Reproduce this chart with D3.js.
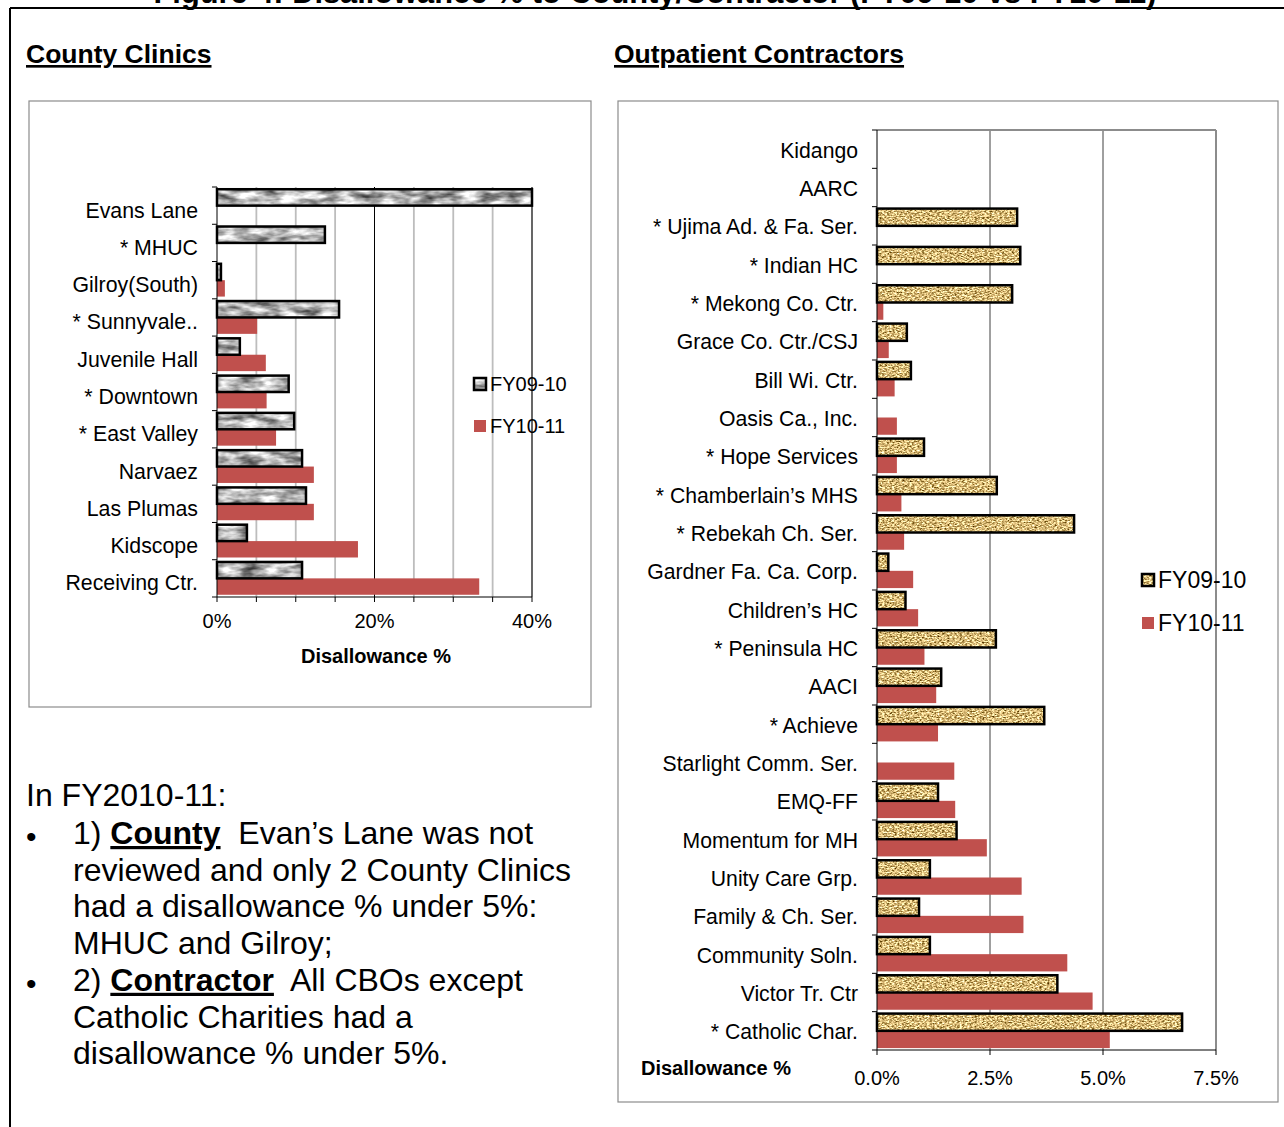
<!DOCTYPE html>
<html>
<head>
<meta charset="utf-8">
<script src="https://cdn.jsdelivr.net/npm/d3@7"></script>
<style>
  body { margin: 0; background: #fff; }
  svg { font-family: "Liberation Sans", Arial, sans-serif; }
</style>
</head>
<body>
<div id="fig"></div>
<script>
var seriesNames = ["FY09-10", "FY10-11"];

/* County clinics (%) */
var countyCats = ["Evans Lane", "* MHUC", "Gilroy(South)", "* Sunnyvale..", "Juvenile Hall",
  "* Downtown", "* East Valley", "Narvaez", "Las Plumas", "Kidscope", "Receiving Ctr."];
var countyFY0910 = [40, 13.7, 0.5, 15.5, 2.9, 9.1, 9.8, 10.8, 11.3, 3.8, 10.8];
var countyFY1011 = [0, 0, 1.0, 5.1, 6.2, 6.3, 7.5, 12.3, 12.3, 17.9, 33.3];
var countyTicks = [0, 20, 40];

/* Outpatient contractors (%) */
var contractCats = ["Kidango", "AARC", "* Ujima Ad. & Fa. Ser.", "* Indian HC", "* Mekong Co. Ctr.",
  "Grace Co. Ctr./CSJ", "Bill Wi. Ctr.", "Oasis Ca., Inc.", "* Hope Services", "* Chamberlain\u2019s MHS",
  "* Rebekah Ch. Ser.", "Gardner Fa. Ca. Corp.", "Children\u2019s HC", "* Peninsula HC", "AACI",
  "* Achieve", "Starlight Comm. Ser.", "EMQ-FF", "Momentum for MH", "Unity Care Grp.",
  "Family & Ch. Ser.", "Community Soln.", "Victor Tr. Ctr", "* Catholic Char."];
var contractFY0910 = [0, 0, 3.10, 3.17, 2.99, 0.66, 0.75, 0, 1.04, 2.65, 4.36, 0.25, 0.63, 2.63,
  1.42, 3.70, 0, 1.35, 1.76, 1.17, 0.93, 1.17, 3.99, 6.75];
var contractFY1011 = [0, 0, 0, 0, 0.14, 0.26, 0.39, 0.44, 0.44, 0.54, 0.60, 0.80, 0.91, 1.05,
  1.31, 1.35, 1.71, 1.73, 2.43, 3.20, 3.24, 4.21, 4.77, 5.15];
var contractTicks = [0, 2.5, 5, 7.5];

var RED = "#C0504D";

var svg = d3.select("#fig").append("svg")
  .attr("width", 1284)
  .attr("height", 1127);

var defs = svg.append("defs");

function textureFilter(id, freq, seed, matrix) {
  var f = defs.append("filter").attr("id", id)
    .attr("x", 0).attr("y", 0).attr("width", 1).attr("height", 1)
    .attr("color-interpolation-filters", "sRGB");
  f.append("feTurbulence").attr("type", "fractalNoise")
    .attr("baseFrequency", freq).attr("numOctaves", 3).attr("seed", seed);
  f.append("feColorMatrix").attr("type", "matrix").attr("values", matrix);
  f.append("feComposite").attr("in2", "SourceGraphic").attr("operator", "in");
}
textureFilter("marble", "0.05 0.14", 4,
  "1.3 0 0 0 0.05  1.3 0 0 0 0.05  1.3 0 0 0 0.05  0 0 0 0 1");
textureFilter("tan", "0.4 0.8", 9,
  "1.5 0 0 0 0.1  1.5 0 0 0 -0.02  1.5 0 0 0 -0.28  0 0 0 0 1");

/* page frame + cut-off caption */
svg.append("text")
  .attr("x", 655).attr("y", 3)
  .attr("text-anchor", "middle")
  .style("font-size", "30.8px").style("font-weight", "bold")
  .text("Figure 4: Disallowance % to County/Contractor (FY09-10 vs FY10-11)");
svg.append("line").attr("x1", 10).attr("x2", 1284).attr("y1", 8).attr("y2", 8)
  .attr("stroke", "#000").attr("stroke-width", 2);
svg.append("line").attr("x1", 10).attr("x2", 10).attr("y1", 8).attr("y2", 1127)
  .attr("stroke", "#000").attr("stroke-width", 2);

/* section headings */
[["County Clinics", 26], ["Outpatient Contractors", 614]].forEach(function (h) {
  svg.append("text")
    .attr("x", h[1]).attr("y", 63)
    .style("font-size", "26.5px").style("font-weight", "bold")
    .style("text-decoration", "underline")
    .text(h[0]);
});

function drawChart(cfg) {
  var g = svg.append("g");

  g.append("rect")
    .attr("x", cfg.box[0]).attr("y", cfg.box[1])
    .attr("width", cfg.box[2]).attr("height", cfg.box[3])
    .attr("fill", "#fff").attr("stroke", "#8c8c8c").attr("stroke-width", 1.2);

  var x = d3.scaleLinear().domain([0, cfg.max]).range([cfg.x0, cfg.x1]);
  var y = d3.scaleBand().domain(cfg.cats).range([cfg.y0, cfg.y1])
    .paddingInner(cfg.pad).paddingOuter(cfg.pad / 2);
  var ys = d3.scaleBand().domain(seriesNames).range([0, y.bandwidth()]);

  /* gridlines */
  g.selectAll("line.grid")
    .data(cfg.grid)
    .enter()
    .append("line")
    .attr("class", "grid")
    .attr("x1", function (d) { return x(d[0]); })
    .attr("x2", function (d) { return x(d[0]); })
    .attr("y1", cfg.y0).attr("y2", cfg.y1)
    .attr("stroke", function (d) { return d[1]; })
    .attr("stroke-width", function (d) { return d[2]; });
  if (cfg.topBorder) {
    g.append("line").attr("x1", cfg.x0).attr("x2", cfg.x1)
      .attr("y1", cfg.y0).attr("y2", cfg.y0)
      .attr("stroke", "#8c8c8c").attr("stroke-width", 2);
  }

  var rows = cfg.cats.map(function (c, i) {
    return { cat: c, a: cfg.a[i], b: cfg.b[i] };
  });

  /* FY10-11 */
  g.selectAll("rect.b")
    .data(rows.filter(function (d) { return d.b > 0; }))
    .enter()
    .append("rect")
    .attr("class", "b")
    .attr("x", x(0))
    .attr("y", function (d) { return y(d.cat) + ys("FY10-11"); })
    .attr("width", function (d) { return x(d.b) - x(0); })
    .attr("height", ys.bandwidth())
    .attr("fill", RED);

  /* FY09-10 */
  var aRows = rows.filter(function (d) { return d.a > 0; });
  g.selectAll("rect.a")
    .data(aRows)
    .enter()
    .append("rect")
    .attr("class", "a")
    .attr("x", x(0))
    .attr("y", function (d) { return y(d.cat) + ys("FY09-10"); })
    .attr("width", function (d) { return x(d.a) - x(0); })
    .attr("height", ys.bandwidth())
    .attr("fill", "#999")
    .attr("filter", "url(#" + cfg.texture + ")");
  g.selectAll("rect.aline")
    .data(aRows)
    .enter()
    .append("rect")
    .attr("class", "aline")
    .attr("x", x(0))
    .attr("y", function (d) { return y(d.cat) + ys("FY09-10"); })
    .attr("width", function (d) { return x(d.a) - x(0); })
    .attr("height", ys.bandwidth())
    .attr("fill", "none")
    .attr("stroke", "#000")
    .attr("stroke-width", 2.5);

  /* category axis */
  g.append("line").attr("x1", cfg.x0).attr("x2", cfg.x0)
    .attr("y1", cfg.y0).attr("y2", cfg.y1).attr("stroke", "#000");
  g.selectAll("line.ytick")
    .data(d3.range(cfg.cats.length + 1))
    .enter()
    .append("line")
    .attr("class", "ytick")
    .attr("x1", cfg.x0 - 5).attr("x2", cfg.x0)
    .attr("y1", function (i) { return cfg.y0 + i * y.step(); })
    .attr("y2", function (i) { return cfg.y0 + i * y.step(); })
    .attr("stroke", "#000");
  g.selectAll("text.cat")
    .data(cfg.cats)
    .enter()
    .append("text")
    .attr("class", "cat")
    .attr("x", cfg.labelX)
    .attr("y", function (d) { return y(d) + y.bandwidth() / 2 + cfg.labelDy; })
    .attr("text-anchor", "end")
    .attr("dominant-baseline", "central")
    .style("font-size", cfg.labelSize + "px")
    .text(function (d) { return d; });

  /* value axis */
  g.append("line").attr("x1", cfg.x0).attr("x2", cfg.x1)
    .attr("y1", cfg.y1).attr("y2", cfg.y1).attr("stroke", "#000");
  g.selectAll("line.xtick")
    .data(cfg.minor)
    .enter()
    .append("line")
    .attr("class", "xtick")
    .attr("x1", function (d) { return x(d); })
    .attr("x2", function (d) { return x(d); })
    .attr("y1", cfg.y1).attr("y2", cfg.y1 + 5)
    .attr("stroke", "#000");
  g.selectAll("text.xlab")
    .data(cfg.ticks)
    .enter()
    .append("text")
    .attr("class", "xlab")
    .attr("x", function (d) { return x(d); })
    .attr("y", cfg.tickY)
    .attr("text-anchor", "middle")
    .style("font-size", cfg.tickSize + "px")
    .text(cfg.fmt);

  g.append("text")
    .attr("x", cfg.title[0]).attr("y", cfg.title[1])
    .attr("text-anchor", cfg.title[2])
    .style("font-size", "20px").style("font-weight", "bold")
    .text("Disallowance %");

  /* legend */
  var leg = g.selectAll("g.leg")
    .data(seriesNames)
    .enter()
    .append("g")
    .attr("class", "leg")
    .attr("transform", function (d, i) {
      return "translate(" + cfg.legend[0] + "," + (cfg.legend[1] + i * cfg.legend[2]) + ")";
    });
  leg.append("rect")
    .attr("width", 12).attr("height", 12)
    .attr("fill", function (d, i) { return i === 0 ? "#999" : RED; })
    .attr("filter", function (d, i) { return i === 0 ? "url(#" + cfg.texture + ")" : null; });
  leg.filter(function (d, i) { return i === 0; })
    .append("rect")
    .attr("width", 12).attr("height", 12)
    .attr("fill", "none").attr("stroke", "#000").attr("stroke-width", 2.5);
  leg.append("text")
    .attr("x", 16).attr("y", 6)
    .attr("dominant-baseline", "central")
    .style("font-size", cfg.legendSize + "px")
    .text(function (d) { return d; });
}

drawChart({
  box: [29, 101, 562, 606],
  cats: countyCats, a: countyFY0910, b: countyFY1011,
  max: 40, x0: 217, x1: 532, y0: 187, y1: 597, pad: 0.12,
  grid: [[5, "#bdbdbd", 1.8], [10, "#bdbdbd", 1.8], [15, "#bdbdbd", 1.8], [20, "#000", 1],
         [25, "#bdbdbd", 1.8], [30, "#bdbdbd", 1.8], [35, "#bdbdbd", 1.8], [40, "#000", 1.2]],
  texture: "marble",
  labelX: 198, labelDy: 5, labelSize: 21.3,
  minor: d3.range(0, 41, 5), ticks: countyTicks, tickY: 628, tickSize: 20,
  fmt: function (d) { return d + "%"; },
  title: [376, 663, "middle"],
  legend: [474, 378, 42], legendSize: 20
});

drawChart({
  box: [618, 101, 660, 1001],
  cats: contractCats, a: contractFY0910, b: contractFY1011,
  max: 7.5, x0: 877, x1: 1216, y0: 130, y1: 1050, pad: 0.1,
  grid: [[2.5, "#404040", 1], [5, "#404040", 1], [7.5, "#8c8c8c", 2]],
  topBorder: true,
  texture: "tan",
  labelX: 858, labelDy: 1, labelSize: 21.2,
  minor: contractTicks, ticks: contractTicks, tickY: 1085, tickSize: 20,
  fmt: function (d) { return d.toFixed(1) + "%"; },
  title: [641, 1075, "start"],
  legend: [1142, 574, 43], legendSize: 23
});

/* notes under the county chart */
var notes = svg.append("g").style("font-size", "32px");
notes.append("text").attr("x", 26).attr("y", 806).text("In FY2010-11:");

var noteLines = [
  [["1) ", ""], ["County", "b"], ["\u00a0 Evan\u2019s Lane was not", ""]],
  [["reviewed and only 2 County Clinics", ""]],
  [["had a disallowance % under 5%:", ""]],
  [["MHUC and Gilroy;", ""]],
  [["2) ", ""], ["Contractor", "b"], ["\u00a0 All CBOs except", ""]],
  [["Catholic Charities had a", ""]],
  [["disallowance % under 5%.", ""]]
];
var bulletRows = [0, 4];

noteLines.forEach(function (parts, i) {
  var t = notes.append("text").attr("x", 73).attr("y", 844 + i * 36.7);
  parts.forEach(function (p) {
    var s = t.append("tspan").text(p[0]);
    if (p[1] === "b") {
      s.style("font-weight", "bold").style("text-decoration", "underline");
    }
  });
});
notes.selectAll("text.bullet")
  .data(bulletRows)
  .enter()
  .append("text")
  .attr("class", "bullet")
  .attr("x", 26).attr("y", function (d) { return 847 + d * 36.7; })
  .style("font-size", "30px")
  .text("\u2022");
</script>
</body>
</html>
